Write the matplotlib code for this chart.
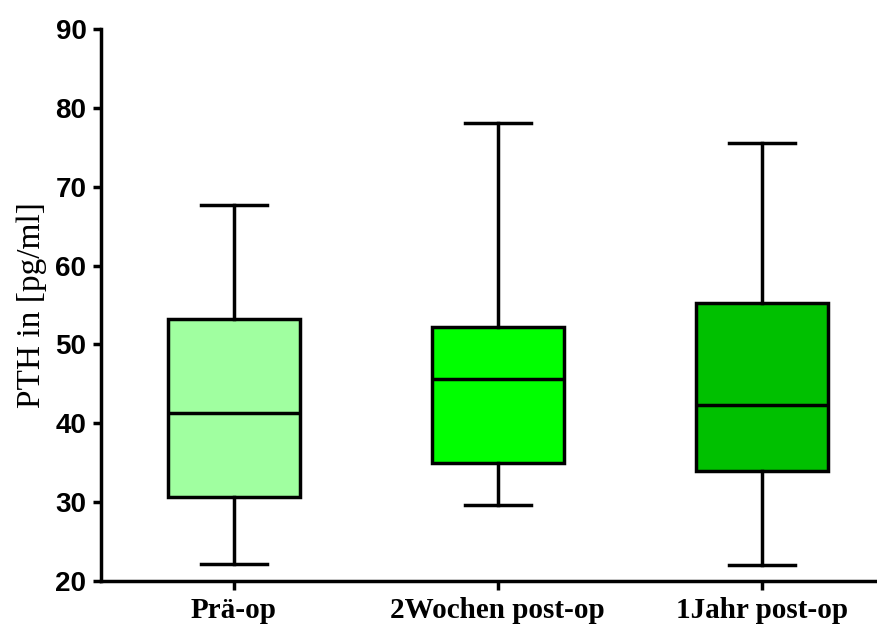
import matplotlib
matplotlib.use("Agg")
import matplotlib.pyplot as plt

# box plot summary
groups = ["Prä-op", "2Wochen post-op", "1Jahr post-op"]
whislo = [22.2, 29.6, 22.0]
q1 = [30.6, 35.0, 33.9]
med = [41.3, 45.6, 42.3]
q3 = [53.2, 52.2, 55.2]
whishi = [67.7, 78.1, 75.6]
colors = ["#A0FFA0", "#00FF00", "#00C000"]

stats = []
for i in range(len(groups)):
    stats.append({"label": groups[i], "whislo": whislo[i], "q1": q1[i],
                  "med": med[i], "q3": q3[i], "whishi": whishi[i], "fliers": []})

fig = plt.figure(figsize=(8.78, 6.3), dpi=100)
ax = fig.add_axes([0.115, 0.078, 0.8816, 0.876])

lw = 2.5
bp = ax.bxp(stats, positions=[1, 2, 3], widths=0.5, patch_artist=True,
            showfliers=False,
            boxprops=dict(linewidth=lw, edgecolor="black"),
            medianprops=dict(linewidth=lw, color="black"),
            whiskerprops=dict(linewidth=lw, color="black"),
            capprops=dict(linewidth=lw, color="black"),
            capwidths=0.25)
for patch, c in zip(bp["boxes"], colors):
    patch.set_facecolor(c)

ax.set_xlim(0.496, 3.43)
ax.set_ylim(20, 90)
ax.set_yticks(range(20, 91, 10))

ax.spines["top"].set_visible(False)
ax.spines["right"].set_visible(False)
ax.spines["left"].set_linewidth(lw)
ax.spines["bottom"].set_linewidth(lw)
ax.tick_params(axis="y", width=lw, length=5.5, pad=5)
ax.tick_params(axis="x", width=lw, length=6.5, pad=5)

for lab in ax.get_yticklabels():
    lab.set_fontfamily("Liberation Sans")
    lab.set_fontweight("bold")
    lab.set_fontsize(20)
ax.set_xticklabels(groups, fontfamily="Liberation Serif", fontweight="bold", fontsize=21)

ax.set_ylabel("PTH in [pg/ml]", fontfamily="Liberation Serif", fontsize=24, labelpad=6)

plt.savefig("out.png", dpi=100)
